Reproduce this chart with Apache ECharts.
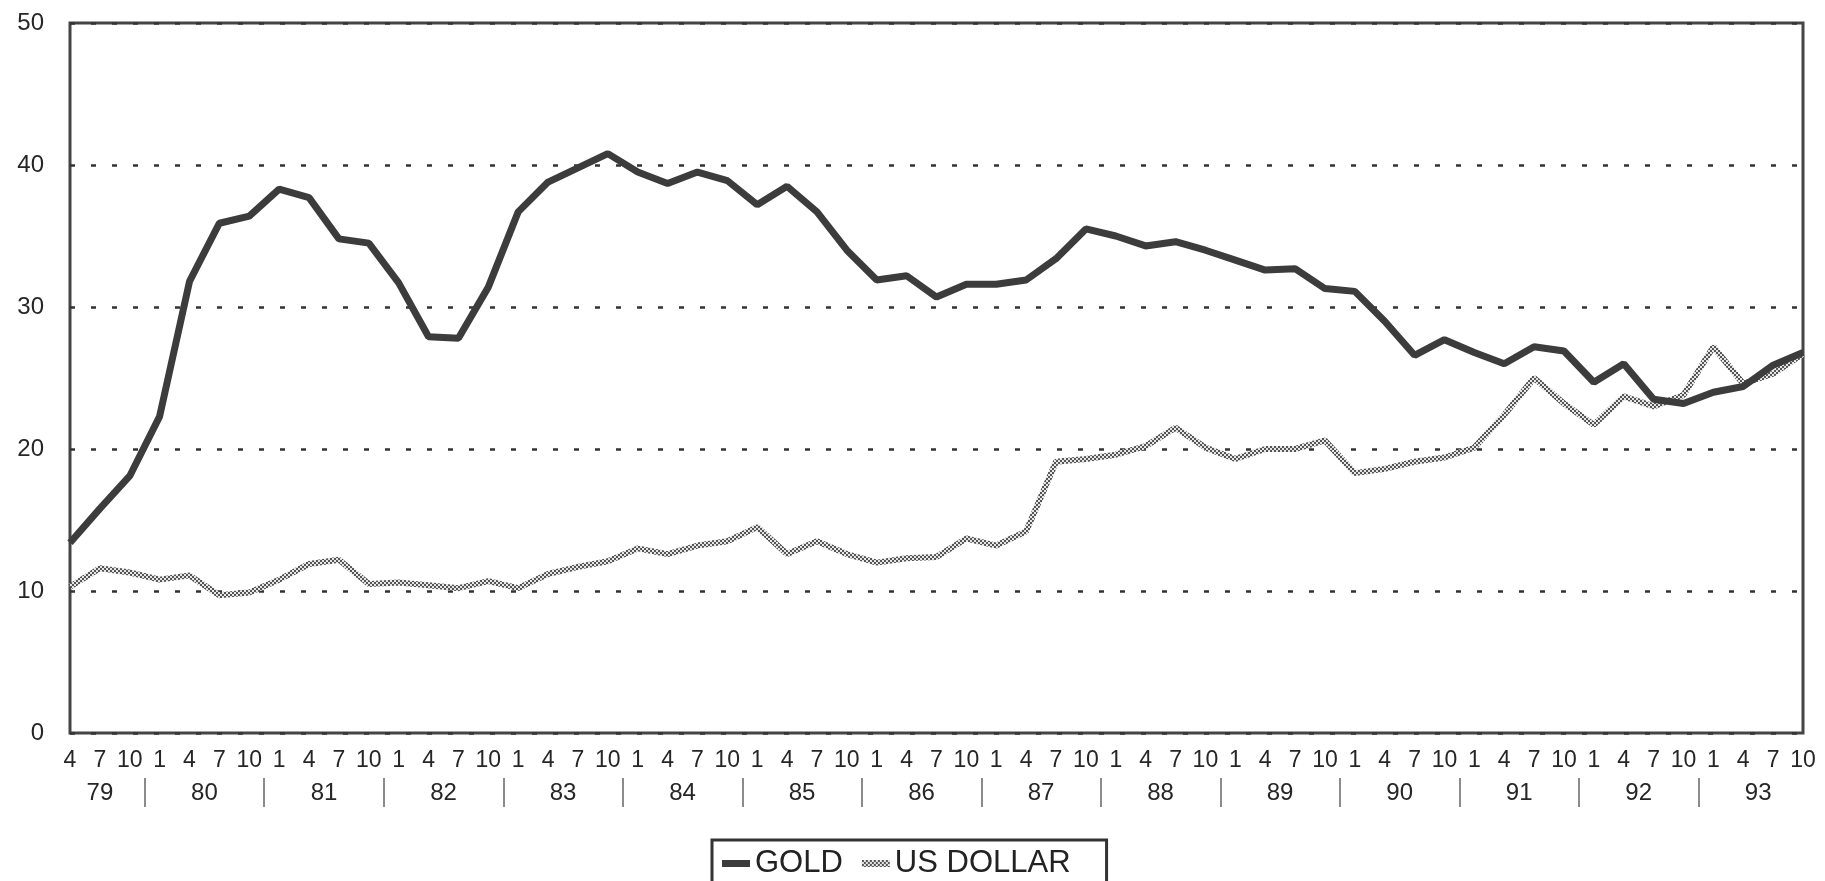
<!DOCTYPE html>
<html>
<head>
<meta charset="utf-8">
<script src="https://cdn.jsdelivr.net/npm/echarts@6/dist/echarts.min.js"></script>
<style>
html,body{margin:0;padding:0;background:#ffffff;}
#c{width:1825px;height:881px;}
</style>
</head>
<body>
<div id="c"></div>
<script>
// ---- data ----
const years = ['79','80','81','82','83','84','85','86','87','88','89','90','91','92','93'];
const firstYearMonths = ['4','7','10'];
const monthsPerYear = ['1','4','7','10'];

const gold = [13.4, 15.8, 18.1, 22.3, 31.8, 35.9, 36.4, 38.3, 37.7, 34.8,
              34.5, 31.7, 27.9, 27.8, 31.4, 36.7, 38.8, 39.8, 40.8, 39.5,
              38.7, 39.5, 38.9, 37.2, 38.5, 36.7, 34.0, 31.9, 32.2, 30.7,
              31.6, 31.6, 31.9, 33.4, 35.5, 35.0, 34.3, 34.6, 34.0, 33.3,
              32.6, 32.7, 31.3, 31.1, 29.0, 26.6, 27.7, 26.8, 26.0, 27.2,
              26.9, 24.7, 26.0, 23.5, 23.2, 24.0, 24.4, 25.9, 26.8];

const usDollar = [10.3, 11.6, 11.3, 10.8, 11.1, 9.7, 9.9, 10.8, 11.9, 12.2,
                  10.5, 10.6, 10.4, 10.2, 10.7, 10.2, 11.2, 11.7, 12.1, 13.0,
                  12.6, 13.2, 13.5, 14.5, 12.6, 13.5, 12.6, 12.0, 12.3, 12.4,
                  13.7, 13.2, 14.2, 19.1, 19.3, 19.6, 20.2, 21.5, 20.1, 19.3,
                  20.0, 20.0, 20.6, 18.3, 18.6, 19.1, 19.4, 20.1, 22.4, 25.0,
                  23.2, 21.7, 23.7, 23.0, 23.8, 27.2, 24.6, 25.3, 26.7];

const yTicks = [0, 10, 20, 30, 40, 50];

// ---- build categories (year-month) ----
const categories = [];
years.forEach((y, k) => {
  const ms = k === 0 ? firstYearMonths : monthsPerYear;
  ms.forEach(m => categories.push(y + '-' + m));
});
// year label centres and year separators, in category-index units
const yearCenters = [];
const yearBounds = [];
let idx = 0;
years.forEach((y, k) => {
  const n = k === 0 ? firstYearMonths.length : monthsPerYear.length;
  yearCenters.push(idx + (n - 1) / 2);
  if (k > 0) yearBounds.push(idx - 0.5);
  idx += n;
});

function makePattern() {
  const c = document.createElement('canvas');
  c.width = 4; c.height = 4;
  const g = c.getContext('2d');
  g.fillStyle = '#e6e6e6'; g.fillRect(0, 0, 4, 4);
  g.fillStyle = '#555555';
  g.fillRect(0, 0, 2, 2);
  g.fillRect(2, 2, 2, 2);
  return { image: c, repeat: 'repeat' };
}
const dollarPattern = makePattern();

const FONT = '"Liberation Sans", Arial, Helvetica, sans-serif';
const chart = echarts.init(document.getElementById('c'), null, { renderer: 'canvas' });

chart.setOption({
  animation: false,
  backgroundColor: '#ffffff',
  grid: {
    left: 70, right: 22, top: 23, bottom: 148,
    show: true, borderColor: '#454545', borderWidth: 3, backgroundColor: 'transparent'
  },
  legend: {
    left: 712, top: 840,
    orient: 'horizontal',
    padding: [8, 36, 20, 10],
    itemGap: 19,
    itemWidth: 28, itemHeight: 7,
    borderColor: '#333', borderWidth: 3,
    textStyle: { fontSize: 31, color: '#222', fontFamily: FONT },
    data: [
      { name: 'GOLD', icon: 'rect', itemStyle: { color: '#3c3c3c' } },
      { name: 'US DOLLAR', icon: 'rect', itemStyle: { color: dollarPattern } }
    ]
  },
  xAxis: [
    {
      type: 'category',
      data: categories,
      boundaryGap: false,
      axisLine: { show: false },
      axisTick: { show: false },
      splitLine: { show: false },
      axisLabel: {
        interval: 0,
        margin: 16,
        fontSize: 23,
        color: '#262626',
        fontFamily: FONT,
        formatter: v => v.split('-')[1]
      }
    },
    {
      type: 'value',
      gridIndex: 0,
      position: 'bottom',
      offset: 45,
      min: 0,
      max: categories.length - 1,
      axisLine: { show: false },
      splitLine: { show: false },
      axisTick: {
        show: true,
        customValues: yearBounds,
        length: 29,
        inside: false,
        lineStyle: { color: '#666', width: 1.5 }
      },
      axisLabel: {
        customValues: yearCenters,
        margin: 3,
        fontSize: 24,
        color: '#262626',
        fontFamily: FONT,
        formatter: v => {
          const i = yearCenters.findIndex(c => Math.abs(c - v) < 1e-6);
          return i >= 0 ? years[i] : '';
        }
      }
    }
  ],
  yAxis: {
    type: 'value',
    min: yTicks[0],
    max: yTicks[yTicks.length - 1],
    interval: 10,
    axisLine: { show: false },
    axisTick: { show: false },
    axisLabel: { fontSize: 24, color: '#262626', margin: 26, fontFamily: FONT },
    splitLine: { show: true, lineStyle: { type: [5, 16], color: '#333', width: 2.5 } }
  },
  series: [
    {
      name: 'US DOLLAR',
      type: 'line',
      data: usDollar,
      xAxisIndex: 0,
      symbol: 'none',
      showSymbol: false,
      color: '#9a9a9a',
      lineStyle: { width: 6, color: dollarPattern },
      z: 2
    },
    {
      name: 'GOLD',
      type: 'line',
      data: gold,
      xAxisIndex: 0,
      symbol: 'none',
      showSymbol: false,
      color: '#3c3c3c',
      lineStyle: { width: 7, color: '#3c3c3c' },
      z: 3
    }
  ]
});
</script>
</body>
</html>
